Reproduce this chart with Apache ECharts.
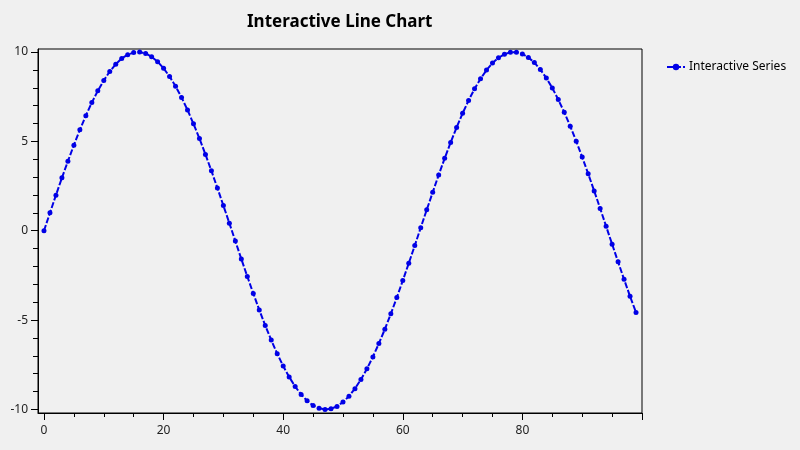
<!DOCTYPE html>
<html><head><meta charset="utf-8">
<script src="https://cdn.jsdelivr.net/npm/echarts@6/dist/echarts.min.js"></script>
<style>html,body{margin:0;padding:0;background:#f0f0f0;}#c{width:800px;height:450px;}</style>
</head><body><div id="c"></div>
<script>
const titleText = 'Interactive Line Chart';
const seriesName = 'Interactive Series';
const xValues = [0,1,2,3,4,5,6,7,8,9,10,11,12,13,14,15,16,17,18,19,20,21,22,23,24,25,26,27,28,29,30,31,32,33,34,35,36,37,38,39,40,41,42,43,44,45,46,47,48,49,50,51,52,53,54,55,56,57,58,59,60,61,62,63,64,65,66,67,68,69,70,71,72,73,74,75,76,77,78,79,80,81,82,83,84,85,86,87,88,89,90,91,92,93,94,95,96,97,98,99];
const yValues = [0,1.00,1.99,2.96,3.89,4.79,5.65,6.44,7.17,7.83,8.41,8.91,9.32,9.64,9.85,9.97,10.00,9.92,9.74,9.46,
9.09,8.63,8.09,7.46,6.76,5.98,5.16,4.27,3.35,2.39,1.41,0.42,-0.58,-1.58,-2.56,-3.51,-4.43,-5.30,-6.12,-6.88,
-7.57,-8.18,-8.72,-9.16,-9.52,-9.78,-9.94,-10.00,-9.96,-9.83,-9.59,-9.26,-8.84,-8.32,-7.73,-7.06,-6.31,-5.51,-4.65,-3.74,
-2.79,-1.82,-0.83,0.17,1.17,2.15,3.12,4.05,4.94,5.78,6.57,7.29,7.94,8.50,8.99,9.38,9.68,9.88,9.99,9.99,
9.89,9.70,9.41,9.02,8.55,7.99,7.34,6.63,5.85,5.01,4.12,3.19,2.23,1.25,0.25,-0.75,-1.74,-2.72,-3.67,-4.57];
const xMajorTicks = [0,20,40,60,80,100];
const xTickLabels = [0,20,40,60,80];
const xMinorTicks = [5,10,15,25,30,35,45,50,55,65,70,75,85,90,95];
const yMajorTicks = [-10,-5,0,5,10];
const yMinorTicks = [-9,-8,-7,-6,-4,-3,-2,-1,1,2,3,4,6,7,8,9];

const FONT = '"Noto Sans", "Open Sans", sans-serif';
const data = xValues.map((x,i)=>[x,yValues[i]]);
const chart = echarts.init(document.getElementById('c'), null, {renderer:'canvas'});
const xBase = {type:'value', min:-1, max:100, gridIndex:0};
const yBase = {type:'value', min:-10.2, max:10.17, gridIndex:0};
chart.setOption({
  backgroundColor:'#f0f0f0',
  animation:false,
  title:{text:titleText, left:242, top:9, textStyle:{fontFamily:FONT, fontSize:17, fontWeight:'bold', color:'#000'}},
  legend:{data:[seriesName], left:661, top:56, itemWidth:18, itemHeight:8, itemGap:4,
    textStyle:{fontFamily:FONT, fontSize:12, color:'#000', padding:[0,0,0,-1]}},
  grid:{left:38, top:49, right:158, bottom:37, show:true, borderColor:'#000', borderWidth:1, backgroundColor:'transparent'},
  xAxis:[
    Object.assign({}, xBase, {
      axisLine:{show:true, onZero:false, lineStyle:{color:'#000', width:1}},
      axisTick:{show:true, customValues:xMajorTicks, length:7, lineStyle:{color:'#000'}},
      axisLabel:{show:true, customValues:xTickLabels, margin:12, fontFamily:FONT, fontSize:12, color:'#222'},
      splitLine:{show:false}
    }),
    Object.assign({}, xBase, {
      position:'bottom',
      axisLine:{show:false, onZero:false},
      axisTick:{show:true, customValues:xMinorTicks, length:4, lineStyle:{color:'#000'}},
      axisLabel:{show:false},
      splitLine:{show:false}
    })
  ],
  yAxis:[
    Object.assign({}, yBase, {
      axisLine:{show:true, onZero:false, lineStyle:{color:'#000', width:1}},
      axisTick:{show:true, customValues:yMajorTicks, length:7, lineStyle:{color:'#000'}},
      axisLabel:{show:true, customValues:yMajorTicks, margin:10, fontFamily:FONT, fontSize:12, color:'#222'},
      splitLine:{show:false}
    }),
    Object.assign({}, yBase, {
      position:'left',
      axisLine:{show:false, onZero:false},
      axisTick:{show:true, customValues:yMinorTicks, length:5, lineStyle:{color:'#000'}},
      axisLabel:{show:false},
      splitLine:{show:false}
    })
  ],
  series:[{
    name:seriesName, type:'line', data:data, xAxisIndex:0, yAxisIndex:0,
    symbol:'circle', symbolSize:5, showAllSymbol:true,
    lineStyle:{color:'#0000e6', width:2, type:[6,2]},
    itemStyle:{color:'#0000e6'},
    emphasis:{disabled:true}
  }]
});
</script></body></html>
